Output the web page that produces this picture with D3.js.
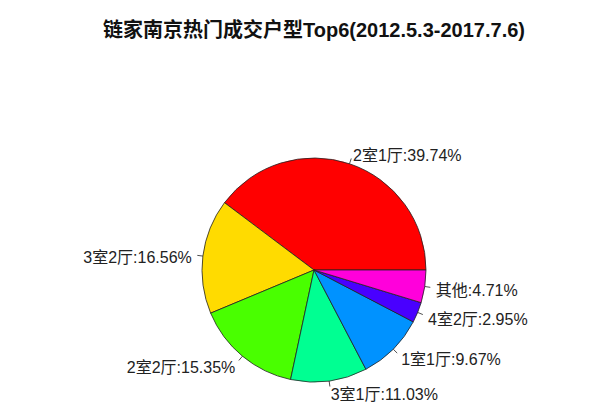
<!DOCTYPE html>
<html>
<head>
<meta charset="utf-8">
<script src="https://cdn.jsdelivr.net/npm/d3@7"></script>
<style>
    body { margin: 0; background: #fff; }
    svg { display: block; }
</style>
</head>
<body>
<svg id="chart" width="609" height="417"></svg>
<script>
    var categories = ['2室1厅', '3室2厅', '2室2厅', '3室1厅', '1室1厅', '4室2厅', '其他'];
    var shares = [39.74, 16.56, 15.35, 11.03, 9.67, 2.95, 4.71];
    var colors = ['#FF0000', '#FFDB00', '#49FF00', '#00FF92', '#0092FF', '#4900FF', '#FF00DB'];
    var title = '链家南京热门成交户型Top6(2012.5.3-2017.7.6)';

    var cx = 314;
    var cy = 270;
    var radius = 112;

    var svg = d3.select('#chart');

    svg.append('text')
        .attr('x', 314)
        .attr('y', 37)
        .attr('text-anchor', 'middle')
        .attr('font-family', '"Liberation Sans", "Noto Sans CJK SC", sans-serif')
        .attr('font-weight', 'bold')
        .attr('font-size', 20)
        .attr('fill', '#111')
        .text(title);

    // R-style pie: start at 3 o'clock, go counter-clockwise
    var pie = d3.pie()
        .sort(null)
        .value(function(d) { return d; })
        .startAngle(Math.PI / 2)
        .endAngle(Math.PI / 2 - 2 * Math.PI);

    var arcs = pie(shares);
    var arc = d3.arc().innerRadius(0).outerRadius(radius);

    var g = svg.append('g').attr('transform', 'translate(' + cx + ',' + cy + ')');

    g.selectAll('path.slice')
        .data(arcs)
        .enter().append('path')
        .attr('class', 'slice')
        .attr('d', arc)
        .attr('fill', function(d, i) { return colors[i]; })
        .attr('stroke', '#222')
        .attr('stroke-width', 0.8);

    function midAngle(d) { return (d.startAngle + d.endAngle) / 2; }

    g.selectAll('line.tick')
        .data(arcs)
        .enter().append('line')
        .attr('class', 'tick')
        .attr('x1', function(d) { return radius * Math.sin(midAngle(d)); })
        .attr('y1', function(d) { return -radius * Math.cos(midAngle(d)); })
        .attr('x2', function(d) { return 1.05 * radius * Math.sin(midAngle(d)); })
        .attr('y2', function(d) { return -1.05 * radius * Math.cos(midAngle(d)); })
        .attr('stroke', '#222')
        .attr('stroke-width', 0.8);

    g.selectAll('text.label')
        .data(arcs)
        .enter().append('text')
        .attr('class', 'label')
        .attr('x', function(d) { return 1.1 * radius * Math.sin(midAngle(d)); })
        .attr('y', function(d) { return -1.1 * radius * Math.cos(midAngle(d)); })
        .attr('dy', '0.5em')
        .attr('text-anchor', function(d) { return Math.sin(midAngle(d)) < 0 ? 'end' : 'start'; })
        .attr('font-family', '"Liberation Sans", "Noto Sans CJK SC", sans-serif')
        .attr('font-size', 16)
        .attr('fill', '#222')
        .text(function(d, i) { return categories[i] + ':' + shares[i].toFixed(2) + '%'; });
</script>
</body>
</html>
